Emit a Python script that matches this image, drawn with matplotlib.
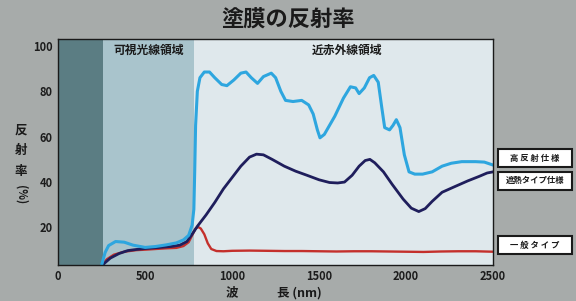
import matplotlib.pyplot as plt
from matplotlib.patches import Rectangle

plt.rcParams['font.family'] = ['Noto Sans CJK JP', 'DejaVu Sans']

# wavelength (nm) / reflectance (%)
high_x = [250, 270, 290, 330, 380, 430, 500, 560, 620, 680, 720, 750, 770, 780, 785,
          790, 800, 815, 840, 870, 900, 940, 970, 1010, 1050, 1080, 1110, 1146, 1180,
          1225, 1250, 1280, 1307, 1350, 1400, 1440, 1466, 1490, 1505, 1530, 1560, 1590,
          1640, 1680, 1710, 1730, 1760, 1790, 1814, 1840, 1860, 1877, 1905, 1925, 1944,
          1965, 1990, 2017, 2050, 2095, 2150, 2207, 2260, 2320, 2400, 2450, 2500]
high_y = [3.5, 9, 12, 13.8, 13.5, 12.2, 11.2, 11.6, 12.3, 13.2, 14.5, 16.5, 21, 28, 45,
          65, 80, 86, 88.5, 88.5, 86, 83, 82.5, 85, 88, 88.5, 86, 83.5, 86.5,
          88, 86, 80, 76, 75.5, 76, 74, 70, 63, 59.5, 61, 65, 69,
          77, 82, 81.5, 79, 81.5, 86, 87, 84, 73, 64, 63, 65, 67.5,
          64, 52, 44.5, 43.5, 43.5, 44.5, 47, 48.3, 49, 49, 48.8, 47.5]

heat_x = [250, 270, 300, 350, 400, 450, 500, 550, 600, 650, 700, 740, 770, 800,
          850, 900, 950, 1000, 1050, 1100, 1140, 1180, 1230, 1300, 1365, 1430, 1500,
          1560, 1607, 1646, 1690, 1730, 1765, 1792, 1820, 1870, 1920, 1983, 2030,
          2073, 2110, 2150, 2207, 2280, 2354, 2420, 2466, 2500]
heat_y = [3, 4.5, 6.5, 8.5, 9.8, 10.3, 10.7, 11, 11.3, 11.6, 12.2, 13.8, 17, 20.5,
          25.5, 31, 37, 42, 47, 51, 52.3, 52, 50, 47, 44.8, 43, 41, 39.8, 39.6, 40,
          43, 47, 49.5, 50, 48.5, 44.5, 39, 32.5, 28.5, 27, 28.3, 31.5, 35.5, 38, 40.5, 42.5, 44, 44.5]

std_x = [250, 280, 320, 380, 450, 500, 560, 620, 680, 720, 750, 770, 790, 805, 820,
         840, 860, 880, 910, 950, 1000, 1100, 1200, 1300, 1400, 1500, 1600, 1700,
         1800, 1900, 2000, 2100, 2200, 2300, 2400, 2500]
std_y = [3.5, 6, 8, 9.3, 10, 10.2, 10.5, 10.8, 11, 11.8, 13.5, 16.5, 19.5, 20.2, 19.5,
         17, 13, 10.5, 9.6, 9.5, 9.7, 9.8, 9.7, 9.6, 9.6, 9.5, 9.4, 9.5,
         9.5, 9.4, 9.3, 9.2, 9.4, 9.5, 9.5, 9.3]

xticks = [0, 500, 1000, 1500, 2000, 2500]
yticks = [20, 40, 60, 80, 100]
series_labels = ['高 反 射 仕 様', '遮熱タイプ仕様', '一 般 タ イ プ']

fig = plt.figure(figsize=(5.76, 3.01), dpi=100, facecolor='#a7abaa')
ax = fig.add_axes([0.101, 0.12, 0.755, 0.75])
ax.set_facecolor('#dfe8ec')

ax.axvspan(0, 255, color='#5b7d83', lw=0)
ax.axvspan(255, 780, color='#a9c4cc', lw=0)

ax.plot(std_x, std_y, color='#c4302c', lw=1.7)
ax.plot(heat_x, heat_y, color='#1f1e5c', lw=2.0)
ax.plot(high_x, high_y, color='#2ea6df', lw=2.2)

ax.set_xlim(0, 2500)
ax.set_ylim(3.5, 103)
ax.set_xticks(xticks)
ax.set_yticks(yticks)
ax.tick_params(length=0, labelsize=8, colors='#1c1c1c', pad=4)
for lab in ax.get_xticklabels() + ax.get_yticklabels():
    lab.set_fontweight('bold')
for s in ax.spines.values():
    s.set_color('#1a1a1a')
    s.set_linewidth(1.0)

ax.text(520, 98, '可視光線領域', ha='center', va='center', fontsize=8.5, fontweight='bold', color='#1a1a1a')
ax.text(1660, 98, '近赤外線領域', ha='center', va='center', fontsize=8.5, fontweight='bold', color='#1a1a1a')

fig.text(0.5, 0.934, '塗膜の反射率', ha='center', va='center', fontsize=16, fontweight='bold', color='#1a1a1a')

# y label, stacked characters
fig.text(0.036, 0.50, '反\n射\n率', ha='center', va='center', fontsize=9, fontweight='bold',
         color='#1a1a1a', linespacing=1.75)
fig.text(0.037, 0.352, '(%)', ha='center', va='center', fontsize=8, fontweight='bold',
         color='#1a1a1a', rotation=270)

fig.text(0.403, 0.027, '波', ha='center', va='center', fontsize=9, fontweight='bold', color='#1a1a1a')
fig.text(0.519, 0.027, '長 (nm)', ha='center', va='center', fontsize=9, fontweight='bold', color='#1a1a1a')

# series labels at the right, fixed-width boxes
for lab, yc in zip(series_labels, [0.475, 0.399, 0.186]):
    fig.patches.append(Rectangle((0.865, yc - 0.03), 0.128, 0.06, transform=fig.transFigure,
                                 facecolor='white', edgecolor='#1a1a1a', lw=1.5))
    fig.text(0.929, yc, lab, ha='center', va='center', fontsize=6, fontweight='bold', color='#1a1a1a')

fig.savefig('out.png', dpi=100, facecolor=fig.get_facecolor())
